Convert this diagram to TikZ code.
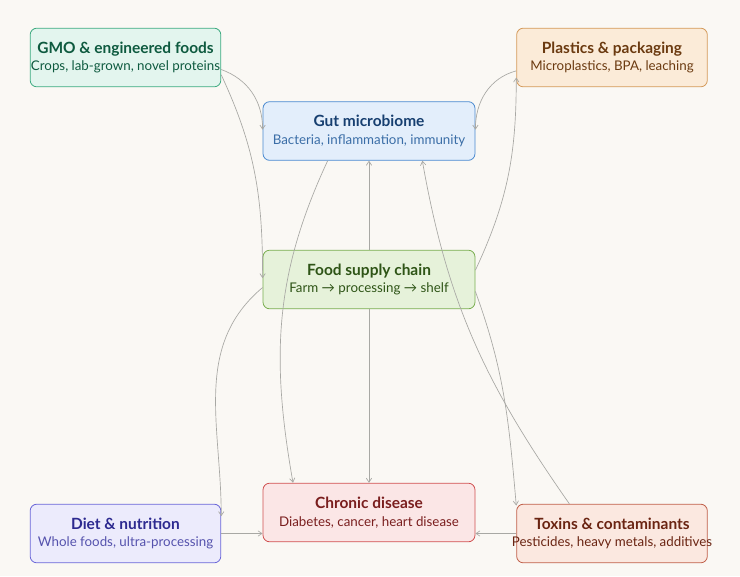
\documentclass[tikz,border=0pt]{standalone}
\usepackage{fontspec}
\setmainfont{Lato}
\usepackage{xcolor}
\usetikzlibrary{positioning, arrows.meta}

\definecolor{bgc}{HTML}{FAF8F4}
\definecolor{gmoF}{HTML}{E3F5EE}\definecolor{gmoD}{HTML}{3DAA80}\definecolor{gmoT}{HTML}{0E5A3F}
\definecolor{plaF}{HTML}{FBEBD8}\definecolor{plaD}{HTML}{D49A5A}\definecolor{plaT}{HTML}{6B3A10}
\definecolor{gutF}{HTML}{E3EEFB}\definecolor{gutD}{HTML}{4A8AD0}\definecolor{gutT}{HTML}{173F70}
\definecolor{fooF}{HTML}{E6F2DA}\definecolor{fooD}{HTML}{7AAE50}\definecolor{fooT}{HTML}{2E5416}
\definecolor{chrF}{HTML}{FBE6E6}\definecolor{chrD}{HTML}{D05050}\definecolor{chrT}{HTML}{7A1E1E}
\definecolor{dieF}{HTML}{ECEBFC}\definecolor{dieD}{HTML}{6A66D8}\definecolor{dieT}{HTML}{2D2A90}
\definecolor{toxF}{HTML}{FBE8E0}\definecolor{toxD}{HTML}{C0604A}\definecolor{toxT}{HTML}{6A2412}
\definecolor{edge}{HTML}{A8A8A4}

\tikzset{
  box/.style={rectangle, rounded corners=5pt, draw=#1D, fill=#1F, text=#1T, line width=0.6pt,
    minimum width=143pt, minimum height=44pt, align=center, inner sep=0pt},
  wide/.style={minimum width=159pt},
  link/.style={draw=edge, line width=0.5pt, -{Straight Barb[length=3pt,width=4pt]}}
}
\newcommand{\boxtext}[2]{{\fontsize{11.6}{13}\selectfont\bfseries #1}\\[1pt]{\fontsize{10}{12}\selectfont #2}}

\begin{document}
\begin{tikzpicture}[x=0.75pt, y=-0.75pt]
\fill[bgc] (0,0) rectangle (740,576);
\useasboundingbox (0,0) rectangle (740,576);

\node[box=gmo] (gmo) at (125.5,57.5) {\boxtext{GMO \& engineered foods}{Crops, lab-grown, novel proteins}};
\node[box=pla] (pla) at (612,57.5) {\boxtext{Plastics \& packaging}{Microplastics, BPA, leaching}};
\node[box=gut, wide] (gut) at (369,131) {\boxtext{Gut microbiome}{\color{gutD!80!black}Bacteria, inflammation, immunity}};
\node[box=foo, wide] (foo) at (369,279.5) {\boxtext{Food supply chain}{Farm → processing → shelf}};
\node[box=chr, wide] (chr) at (369,512.5) {\boxtext{Chronic disease}{Diabetes, cancer, heart disease}};
\node[box=die] (die) at (125.5,533.5) {\boxtext{Diet \& nutrition}{\color{dieD!80!black}Whole foods, ultra-processing}};
\node[box=tox] (tox) at (612,533.5) {\boxtext{Toxins \& contaminants}{\makebox[0pt]{Pesticides, heavy metals, additives}}};

\draw[link] ([yshift=-9pt]gmo.east) to[out=-20, in=90] ([yshift=1pt]gut.west);
\draw[link] ([yshift=-13pt]gmo.east) to[out=-65, in=90] ([yshift=1pt]foo.west);
\draw[link] ([yshift=-10pt]pla.west) to[out=195, in=90] ([yshift=1pt]gut.east);
\draw[link] ([yshift=7pt]foo.east) to[out=65, in=-90] ([yshift=-15pt]pla.west);
\draw[link] (foo.north) -- (gut.south);
\draw[link] ([xshift=-31pt]gut.south) to[out=-115, in=100] ([xshift=-57pt]chr.north);
\draw[link] (foo.south) -- (chr.north);
\draw[link] ([yshift=-6pt]foo.west) to[out=-140, in=90] ([yshift=13pt]die.east);
\draw[link] ([yshift=-9pt]foo.east) to[out=-70, in=95] ([yshift=21pt]tox.west);
\draw[link] ([xshift=-32pt]tox.north) to[out=125, in=-80] ([xshift=40pt]gut.south);
\draw[link] (tox.west) -- (tox.west -| chr.east);
\draw[link] (die.east) -- (die.east -| chr.west);
\end{tikzpicture}
\end{document}
